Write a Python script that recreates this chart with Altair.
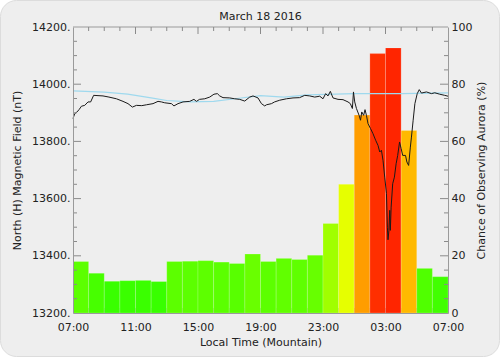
import altair as alt
import pandas as pd

# ---------------- data ----------------
HOURS = list(range(24))  # hourly bins, hours after 07:00 local
PCT = [18.0, 13.9, 11.1, 11.3, 11.4, 11.0, 18.0, 18.1, 18.3, 17.8, 17.3, 20.6,
       18.0, 19.1, 18.7, 20.2, 31.3, 45.0, 69.2, 90.7, 92.7, 63.8, 15.6, 12.7]

FIELD_T = [0.00, 0.11, 0.26, 0.40, 0.54, 0.75, 0.96, 1.13, 1.32, 1.60, 1.92, 2.30,
           2.78, 3.20, 3.52, 3.80, 4.06, 4.40, 4.70, 5.12, 5.44, 5.66, 5.87, 6.30,
           6.46, 6.72, 7.04, 7.47, 7.74, 7.90, 8.10, 8.43, 8.75, 9.02, 9.24, 9.39,
           9.60, 10.03, 10.35, 10.67, 10.99, 11.31, 11.52, 11.84, 12.06, 12.27, 12.38,
           12.70, 12.90, 13.23, 13.66, 14.08, 14.50, 14.83, 15.15, 15.47, 15.79, 16.00,
           16.17, 16.32, 16.47, 16.64, 16.96, 17.28, 17.60, 17.75, 17.88, 17.95, 18.03,
           18.14, 18.31, 18.40, 18.48, 18.60, 18.69, 18.78, 18.88, 19.04, 19.20, 19.37,
           19.52, 19.63, 19.74, 19.84, 19.95, 20.06, 20.12, 20.16, 20.22, 20.27, 20.31,
           20.36, 20.46, 20.57, 20.68, 20.78, 20.90, 21.00, 21.10, 21.28, 21.37, 21.48,
           21.59, 21.66, 21.77, 21.88, 22.03, 22.16, 22.30, 22.62, 22.94, 23.15, 23.47,
           23.79, 24.00]
FIELD_V = [13880, 13897, 13903, 13912, 13923, 13926, 13938, 13938, 13961, 13960, 13959, 13955,
           13949, 13940, 13932, 13920, 13926, 13925, 13928, 13932, 13940, 13938, 13935, 13932,
           13924, 13932, 13938, 13940, 13947, 13940, 13947, 13949, 13955, 13965, 13967, 13959,
           13953, 13952, 13949, 13947, 13941, 13955, 13959, 13952, 13932, 13924, 13928,
           13932, 13938, 13944, 13949, 13952, 13953, 13961, 13959, 13955, 13958, 13949,
           13967, 13959, 13975, 13952, 13947, 13946, 13938, 13932, 13915, 13973, 13938,
           13915, 13891, 13874, 13903, 13891, 13911, 13891, 13862, 13845, 13827, 13804,
           13786, 13763, 13769, 13734, 13675, 13618, 13500, 13456, 13489, 13559, 13489,
           13570, 13652, 13675, 13722, 13751, 13798, 13775, 13751, 13751, 13728, 13716,
           13780, 13815, 13874, 13932, 13967, 13981, 13969, 13973, 13967, 13970, 13965,
           13961, 13958]

BASE_T = [0, 2, 3.5, 5, 6, 7.5, 9, 10.5, 12, 13.5, 15, 18, 21, 24]
BASE_V = [13977, 13972, 13965, 13952, 13943, 13938, 13940, 13950, 13960, 13955,
          13963, 13967, 13967, 13970]

TITLE = "March 18  2016"
TIME_TICKS = [0, 4, 8, 12, 16, 20, 24]
TIME_LABELS = ["07:00", "11:00", "15:00", "19:00", "23:00", "03:00", "07:00"]
NT_TICKS = [13200, 13400, 13600, 13800, 14000, 14200]
PCT_TICKS = [0, 20, 40, 60, 80, 100]

NT_MAJOR_IN = [13400, 13600, 13800, 14000]
NT_MINOR_IN = [v for v in range(13250, 14200, 50) if v % 200 != 0]
PCT_MAJOR_IN = [20, 40, 60, 80]
PCT_MINOR_IN = [v for v in range(5, 100, 5) if v % 20 != 0]
HOUR_MAJOR_IN = [4, 8, 12, 16, 20]
HOUR_MINOR_IN = [h for h in range(1, 24) if h % 4 != 0]

# ---------------- style ----------------
W, H = 375, 286
FONT = "DejaVu Sans"
GREY = "#9a9a9a"
TICK = "#8a8a8a"
TXT = "#222222"
X0, X1 = 0, 24
NT0, NT1 = 13200, 14200
P0, P1 = 0, 100
MAJ_PX, MIN_PX = 8, 4
HR_PER_PX = (X1 - X0) / W
NT_PER_PX = (NT1 - NT0) / H

x_scale = alt.Scale(domain=[X0, X1], nice=False, zero=False)
nt_scale = alt.Scale(domain=[NT0, NT1], nice=False, zero=False)
pct_scale = alt.Scale(domain=[P0, P1], nice=False, zero=False)

label_expr = "[" + ",".join("'%s'" % s for s in TIME_LABELS) + "][round(datum.value / 4)]"

frame = alt.Chart(pd.DataFrame({"a": [0]})).mark_rect(
    fill="#eeeeee", stroke="#dcdcdc", strokeWidth=1, cornerRadius=16
).encode(x=alt.value(-72.5), x2=alt.value(426.5), y=alt.value(-26.5), y2=alt.value(329.5))

title_text = alt.Chart(pd.DataFrame({"t": [TITLE]})).mark_text(
    font=FONT, fontSize=11, color=TXT, align="center", baseline="alphabetic"
).encode(text="t:N", x=alt.value(W / 2), y=alt.value(-7))


def side_ticks(values, scale, x_from, x_to):
    df = pd.DataFrame({"v": values, "a": [x_from] * len(values), "b": [x_to] * len(values)})
    return alt.Chart(df).mark_rule(color=TICK, strokeWidth=1).encode(
        x=alt.X("a:Q", scale=x_scale, axis=None), x2="b:Q",
        y=alt.Y("v:Q", scale=scale, axis=None))


def edge_ticks(values, y_from, y_to):
    df = pd.DataFrame({"h": values, "a": [y_from] * len(values), "b": [y_to] * len(values)})
    return alt.Chart(df).mark_rule(color=TICK, strokeWidth=1).encode(
        x=alt.X("h:Q", scale=x_scale, axis=None),
        y=alt.Y("a:Q", scale=nt_scale, axis=None), y2="b:Q")


bottom_ticks = edge_ticks(HOUR_MINOR_IN + HOUR_MAJOR_IN, NT0, NT0 + 5 * NT_PER_PX)

bars_df = pd.DataFrame({"start": HOURS, "end": [h + 1 for h in HOURS], "pct": PCT,
                        "zero": [0] * len(HOURS)})
bars = alt.Chart(bars_df).mark_rect(stroke="#ffffff", strokeOpacity=0.3, strokeWidth=0.6).encode(
    x=alt.X("start:Q", scale=x_scale,
            axis=alt.Axis(orient="bottom", values=TIME_TICKS, labelExpr=label_expr, ticks=False,
                          grid=False, domain=True, domainColor=GREY, labelPadding=8,
                          labelFlush=False, labelOverlap=False,
                          title="Local Time (Mountain)", titleY=29, titleBaseline="middle",
                          zindex=1)),
    x2="end:Q",
    y=alt.Y("pct:Q", scale=pct_scale,
            axis=alt.Axis(orient="right", values=PCT_TICKS, ticks=False, grid=False,
                          domain=True, domainColor=GREY, labelPadding=3, labelFlush=False,
                          title="Chance of Observing Aurora (%)", titleAngle=270,
                          titleX=33, titleY=H / 2, titleAlign="center",
                          titleBaseline="middle", zindex=1)),
    y2="zero:Q",
    color=alt.Color("pct:Q", scale=alt.Scale(domain=[0, 100], range=["#00ff00", "#ff0000"],
                                             interpolate="hsl"), legend=None),
)

base_df = pd.DataFrame({"t": BASE_T, "v": BASE_V})
base_line = alt.Chart(base_df).mark_line(color="#9fd9ee", strokeWidth=1.2).encode(
    x=alt.X("t:Q", scale=x_scale, axis=None),
    y=alt.Y("v:Q", scale=nt_scale, axis=None),
)

field_df = pd.DataFrame({"t": FIELD_T, "v": FIELD_V})
field_line = alt.Chart(field_df).mark_line(color="#1a1a1a", strokeWidth=1).encode(
    x=alt.X("t:Q", scale=x_scale, axis=None),
    y=alt.Y("v:Q", scale=nt_scale,
            axis=alt.Axis(orient="left", values=NT_TICKS,
                          labelExpr="format(datum.value, 'd') + '.'", ticks=False, grid=False,
                          domain=True, domainColor=GREY, labelPadding=3, labelFlush=False,
                          title="North (H) Magnetic Field (nT)", titleAngle=270,
                          titleX=-56, titleY=H / 2, titleAlign="center",
                          titleBaseline="middle", zindex=1)),
)

top_border = alt.Chart(pd.DataFrame({"t0": [X0], "t1": [X1], "v": [NT1]})).mark_rule(
    color=GREY, strokeWidth=1
).encode(x=alt.X("t0:Q", scale=x_scale, axis=None), x2="t1:Q",
         y=alt.Y("v:Q", scale=nt_scale, axis=None))

left_major = side_ticks(NT_MAJOR_IN, nt_scale, X0, X0 + MAJ_PX * HR_PER_PX)
left_minor = side_ticks(NT_MINOR_IN, nt_scale, X0, X0 + MIN_PX * HR_PER_PX)
right_major = side_ticks(PCT_MAJOR_IN, pct_scale, X1, X1 - MAJ_PX * HR_PER_PX)
right_minor = side_ticks(PCT_MINOR_IN, pct_scale, X1, X1 - MIN_PX * HR_PER_PX)
top_major = edge_ticks(HOUR_MAJOR_IN, NT1, NT1 - 7 * NT_PER_PX)
top_minor = edge_ticks(HOUR_MINOR_IN, NT1, NT1 - MIN_PX * NT_PER_PX)

chart = alt.layer(
    frame, title_text, bottom_ticks, bars, base_line, field_line, top_border,
    left_major, left_minor, right_major, right_minor, top_major, top_minor,
).resolve_scale(y="independent").resolve_axis(x="independent", y="independent").properties(
    width=W, height=H,
    autosize=alt.AutoSizeParams(type="none"),
    padding={"left": 73, "top": 27, "right": 52, "bottom": 44},
    background="white",
).configure_axis(
    labelFont=FONT, titleFont=FONT, labelFontSize=11, titleFontSize=11,
    labelColor=TXT, titleColor=TXT, titleFontWeight="normal", domainWidth=1,
).configure_view(strokeWidth=0)

chart.save("out.html", embed_options={"renderer": "svg", "actions": False})
